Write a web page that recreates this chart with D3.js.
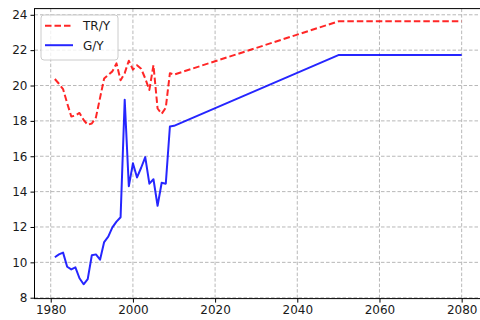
<!DOCTYPE html>
<html>
<head>
<meta charset="utf-8">
<script src="https://cdn.jsdelivr.net/npm/d3@7"></script>
<style>
  html, body { margin: 0; padding: 0; background: #fff; }
  svg { display: block; }
  text { font-family: "DejaVu Sans", sans-serif; fill: #1a1a1a; }
</style>
</head>
<body>
<svg id="chart" width="480" height="320"></svg>
<script>
// Annual observations 1981–2010, then projection anchors for 2050 and 2080
const years = [1981, 1982, 1983, 1984, 1985, 1986, 1987, 1988, 1989, 1990,
               1991, 1992, 1993, 1994, 1995, 1996, 1997, 1998, 1999, 2000,
               2001, 2002, 2003, 2004, 2005, 2006, 2007, 2008, 2009, 2010,
               2050, 2080];

// Tax revenue to output ratio
const trY = [20.37, 20.1, 19.8, 19.0, 18.25, 18.3, 18.45, 18.05, 17.78, 17.85,
             18.2, 19.3, 20.4, 20.6, 20.8, 21.25, 20.3, 20.7, 21.4, 20.9,
             21.15, 20.95, 20.4, 19.75, 21.15, 18.7, 18.4, 18.75, 20.7, 20.62,
             23.63, 23.63];

// Government spending to output ratio
const gY = [10.29, 10.45, 10.55, 9.75, 9.6, 9.72, 9.1, 8.76, 9.05, 10.4,
            10.45, 10.15, 11.15, 11.45, 11.98, 12.3, 12.55, 19.2, 14.3, 15.6,
            14.8, 15.35, 15.95, 14.45, 14.7, 13.2, 14.5, 14.45, 17.68, 17.72,
            21.72, 21.72];

const xTicks = [1980, 2000, 2020, 2040, 2060, 2080];
const yTicks = [8, 10, 12, 14, 16, 18, 20, 22, 24];

const seriesNames = ["TR/Y", "G/Y"];

const svg = d3.select("#chart");
const plotLeft = 34.5, plotRight = 482, plotTop = 8.6, plotBottom = 298.6;

const x = d3.scaleLinear().domain([1976.05, 2084.95]).range([plotLeft, plotRight]);
const y = d3.scaleLinear().domain([7.95, 24.35]).range([plotBottom, plotTop]);

svg.append("defs").append("clipPath").attr("id", "plot-clip")
  .append("rect").attr("x", plotLeft).attr("y", plotTop)
  .attr("width", plotRight - plotLeft).attr("height", plotBottom - plotTop);

// Grid
const grid = svg.append("g");
grid.selectAll("line.vx").data(xTicks).join("line")
  .attr("x1", d => x(d)).attr("x2", d => x(d))
  .attr("y1", plotTop).attr("y2", plotBottom)
  .attr("stroke", "#b0b0b0").attr("stroke-width", 0.9)
  .attr("stroke-dasharray", "3.5,2");
grid.selectAll("line.hy").data(yTicks).join("line")
  .attr("y1", d => y(d)).attr("y2", d => y(d))
  .attr("x1", plotLeft).attr("x2", plotRight)
  .attr("stroke", "#b0b0b0").attr("stroke-width", 0.9)
  .attr("stroke-dasharray", "3.5,2");

// Lines
const line = (vals) => d3.line()
  .x((d, i) => x(years[i]))
  .y(d => y(d))(vals);

const plot = svg.append("g").attr("clip-path", "url(#plot-clip)");
plot.append("path").attr("d", line(trY))
  .attr("fill", "none").attr("stroke", "#ff0000").attr("stroke-opacity", 0.85)
  .attr("stroke-width", 2).attr("stroke-dasharray", "6.5,3")
  .attr("stroke-linejoin", "round");
plot.append("path").attr("d", line(gY))
  .attr("fill", "none").attr("stroke", "#0000ff").attr("stroke-opacity", 0.85)
  .attr("stroke-width", 2).attr("stroke-linejoin", "round");

// Axes
const xAxis = d3.axisBottom(x).tickValues(xTicks).tickFormat(d3.format("d"))
  .tickSize(4).tickPadding(3);
const yAxis = d3.axisLeft(y).tickValues(yTicks).tickFormat(d3.format("d"))
  .tickSize(4).tickPadding(3);

const gx = svg.append("g").attr("transform", `translate(0,${plotBottom})`).call(xAxis);
const gy = svg.append("g").attr("transform", `translate(${plotLeft},0)`).call(yAxis);
[gx, gy].forEach(g => {
  g.select(".domain").remove();
  g.selectAll(".tick line").attr("stroke", "#000").attr("stroke-width", 1);
  g.selectAll(".tick text").attr("font-size", 12)
    .style("font-family", "'DejaVu Sans', sans-serif").attr("fill", "#1a1a1a");
});

// Frame
svg.append("rect").attr("x", plotLeft).attr("y", plotTop)
  .attr("width", plotRight - plotLeft).attr("height", plotBottom - plotTop)
  .attr("fill", "none").attr("stroke", "#000").attr("stroke-width", 1);

// Legend
const lg = svg.append("g");
lg.append("rect").attr("x", 41).attr("y", 15).attr("width", 77).attr("height", 45)
  .attr("rx", 3).attr("fill", "#fff").attr("fill-opacity", 0.8)
  .attr("stroke", "#cccccc").attr("stroke-width", 1);
const legendStyles = [
  { color: "#ff0000", dash: "6.5,3" },
  { color: "#0000ff", dash: null }
];
seriesNames.forEach((name, i) => {
  const ly = 25.7 + i * 19.5;
  lg.append("line").attr("x1", 45).attr("x2", 73).attr("y1", ly).attr("y2", ly)
    .attr("stroke", legendStyles[i].color).attr("stroke-opacity", 0.85)
    .attr("stroke-width", 2)
    .attr("stroke-dasharray", legendStyles[i].dash);
  lg.append("text").attr("x", 83).attr("y", ly).attr("dy", "0.36em")
    .attr("font-size", 12).text(name);
});
</script>
</body>
</html>
